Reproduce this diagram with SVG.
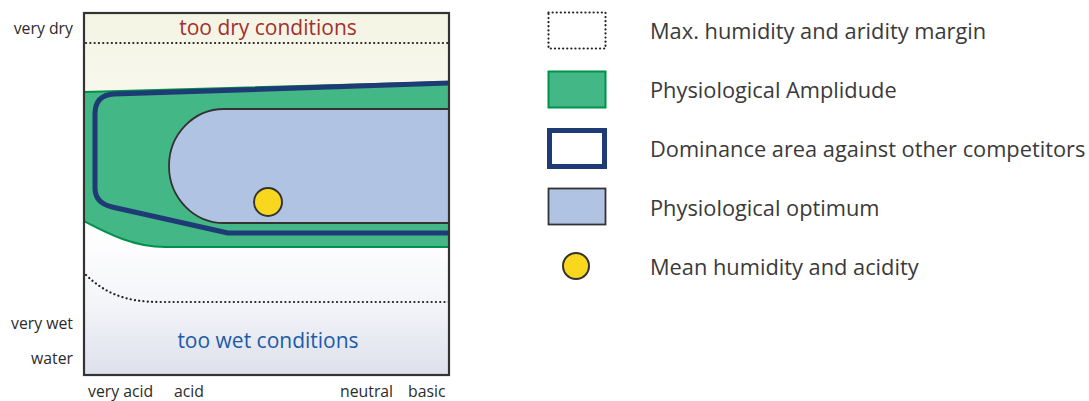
<svg xmlns="http://www.w3.org/2000/svg" width="1089" height="401" viewBox="0 0 1089 401">
  <defs>
    <linearGradient id="bgGrad" x1="0" y1="0" x2="0" y2="1">
      <stop offset="0" stop-color="#f4f4e4"/>
      <stop offset="0.3" stop-color="#f9f9f1"/>
      <stop offset="0.6" stop-color="#ffffff"/>
      <stop offset="0.8" stop-color="#f4f5f9"/>
      <stop offset="1" stop-color="#dde0ec"/>
    </linearGradient>
    <clipPath id="plotClip">
      <rect x="84" y="13" width="365" height="362"/>
    </clipPath>
  </defs>
  <style>
    .axis { font-family: "Open Sans", "Liberation Sans", sans-serif; font-size: 15.8px; fill: #2b2b2b; }
    .legend { font-family: "Open Sans", "Liberation Sans", sans-serif; font-size: 21.8px; fill: #3a3a3a; }
    .zone { font-family: "Open Sans", "Liberation Sans", sans-serif; font-size: 21px; text-anchor: middle; }
    .dotted { fill: none; stroke: #222; stroke-width: 2.2; stroke-dasharray: 0.1 4.2; stroke-linecap: round; }
    .amplitude { fill: #43b886; stroke: #00924a; stroke-width: 2; }
    .dominance { fill: none; stroke: #1f3b75; stroke-width: 5; stroke-linejoin: round; }
    .optimum { fill: #b1c3e3; stroke: #333; stroke-width: 1.8; }
    .mean { fill: #f9d71f; stroke: #333; stroke-width: 2; }
  </style>

  <!-- plot background -->
  <rect x="84" y="13" width="365" height="362" fill="url(#bgGrad)"/>

  <g clip-path="url(#plotClip)">
    <!-- physiological amplitude -->
    <g id="amplitude">
      <path class="amplitude" d="M80 92 L452 82 L452 247 L165 247 C135 247 110 235 80 219 Z"/>
    </g>
    <!-- physiological optimum -->
    <g id="optimum">
      <path class="optimum" d="M452 109 L224 109 A55 57 0 0 0 224 223 L452 223"/>
    </g>
    <!-- dominance area -->
    <g id="dominance">
      <path class="dominance" d="M452 83 L114 94 Q95 95 95 114 L95 188 Q95 203 112 207 L228 233 L452 233"/>
    </g>
    <!-- mean humidity and acidity -->
    <g id="mean">
      <circle class="mean" cx="268" cy="202" r="14"/>
    </g>
    <!-- humidity and aridity margins -->
    <g id="margins">
      <line class="dotted" x1="86" y1="43" x2="449" y2="43"/>
      <path class="dotted" d="M86 275 C105 293 125 302 160 302 L449 302"/>
    </g>
  </g>

  <!-- plot frame -->
  <rect x="84" y="13" width="365" height="362" fill="none" stroke="#333" stroke-width="2.2"/>

  <text class="zone" x="268" y="35" fill="#a3302d">too dry conditions</text>
  <text class="zone" x="268" y="348" fill="#1d5aa7">too wet conditions</text>

  <!-- axis labels -->
  <g id="y-axis">
    <text class="axis" x="73" y="34" text-anchor="end">very dry</text>
    <text class="axis" x="73" y="329" text-anchor="end">very wet</text>
    <text class="axis" x="73" y="364" text-anchor="end">water</text>
  </g>
  <g id="x-axis">
    <text class="axis" x="88" y="397">very acid</text>
    <text class="axis" x="174" y="397">acid</text>
    <text class="axis" x="340" y="397">neutral</text>
    <text class="axis" x="408" y="397">basic</text>
  </g>

  <!-- legend -->
  <g id="legend-margin">
    <rect x="548.5" y="12.5" width="57" height="36" fill="none" stroke="#222" stroke-width="2.2" stroke-dasharray="0.1 4" stroke-linecap="round"/>
    <text class="legend" x="650" y="39">Max. humidity and aridity margin</text>
  </g>
  <g id="legend-amplitude">
    <rect class="amplitude" x="548.5" y="71.5" width="57" height="36"/>
    <text class="legend" x="650" y="98">Physiological Amplidude</text>
  </g>
  <g id="legend-dominance">
    <rect x="549.5" y="130.5" width="55" height="36" fill="#fff" stroke="#1f3b75" stroke-width="5"/>
    <text class="legend" x="650" y="157">Dominance area against other competitors</text>
  </g>
  <g id="legend-optimum">
    <rect class="optimum" x="548.5" y="188.5" width="57" height="36"/>
    <text class="legend" x="650" y="216">Physiological optimum</text>
  </g>
  <g id="legend-mean">
    <circle class="mean" cx="576" cy="266" r="13"/>
    <text class="legend" x="650" y="275">Mean humidity and acidity</text>
  </g>
</svg>
